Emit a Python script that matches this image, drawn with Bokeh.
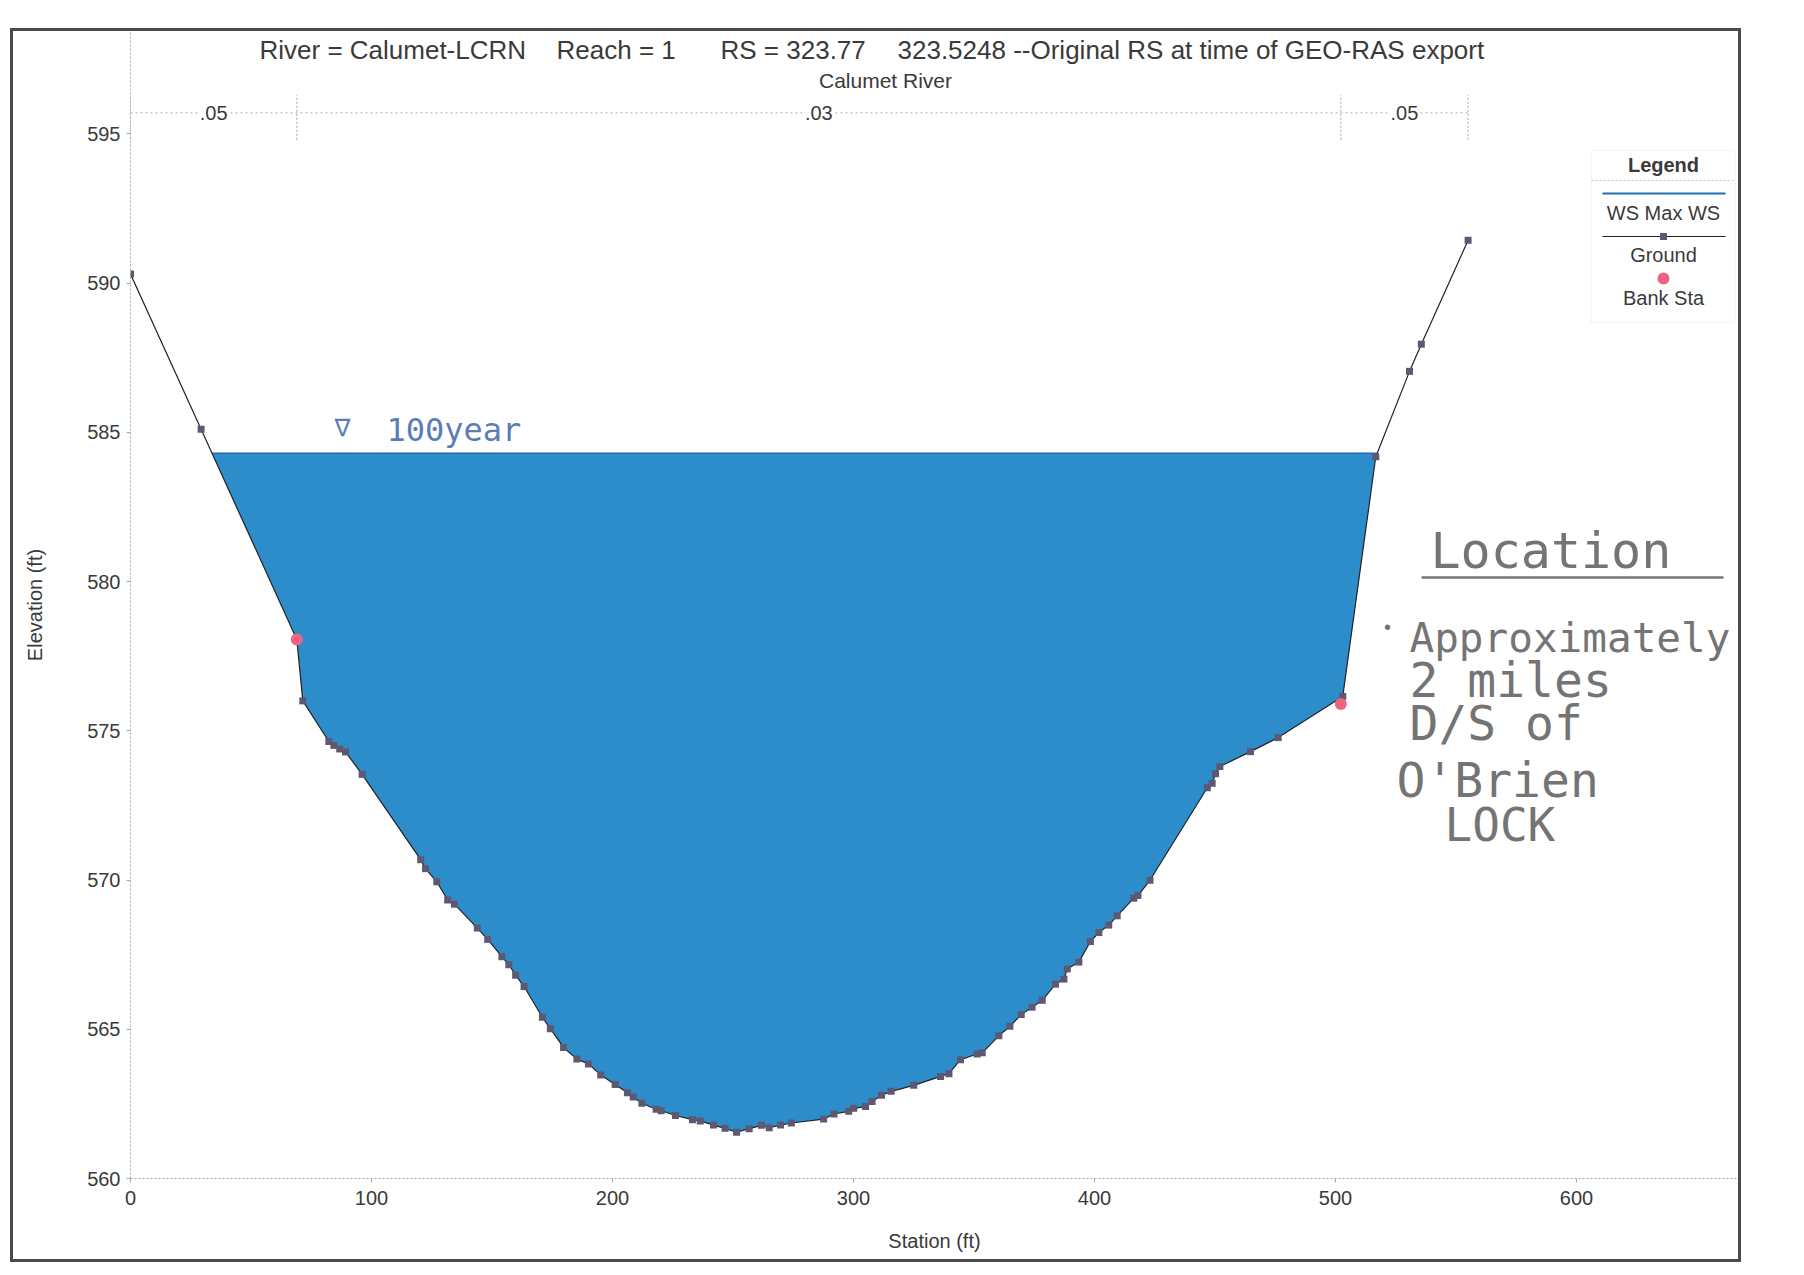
from bokeh.plotting import figure
from bokeh.models import Label, BoxAnnotation, FixedTicker, Range1d
from bokeh.embed import file_html
from bokeh.resources import INLINE

# ---------------- data ----------------
station = [0.0, 29.3, 69.0, 71.5, 82.3, 84.4, 86.8, 89.2, 96.1, 120.4, 122.4, 127.1,
           131.6, 134.4, 143.9, 148.2, 154.1, 157.0, 159.8, 163.3, 170.9, 174.2, 179.7,
           185.2, 190.0, 195.1, 201.1, 206.2, 208.6, 212.2, 218.1, 220.2, 226.1, 233.2,
           236.4, 241.9, 246.7, 251.5, 256.7, 261.8, 265.0, 269.7, 274.2, 287.6, 291.9,
           298.0, 300.1, 305.0, 307.7, 311.6, 315.6, 325.0, 336.1, 339.6, 344.4, 351.3,
           353.4, 360.3, 364.9, 369.6, 374.1, 378.3, 383.8, 387.3, 388.7, 393.5, 398.3,
           401.8, 405.9, 409.4, 416.3, 418.0, 423.0, 446.8, 448.8, 450.2, 452.0, 464.7,
           476.2, 503.0, 516.7, 530.7, 535.6, 555.0]
elevation = [590.30, 585.10, 578.06, 576.00, 574.64, 574.51, 574.39, 574.29, 573.54,
             570.68, 570.38, 569.94, 569.33, 569.19, 568.39, 568.01, 567.43, 567.16,
             566.81, 566.43, 565.40, 565.02, 564.39, 564.00, 563.84, 563.47, 563.15,
             562.87, 562.73, 562.52, 562.32, 562.27, 562.11, 561.97, 561.93, 561.79,
             561.68, 561.55, 561.67, 561.78, 561.70, 561.79, 561.86, 561.99, 562.16,
             562.25, 562.35, 562.41, 562.58, 562.79, 562.92, 563.12, 563.42, 563.51,
             563.98, 564.17, 564.21, 564.78, 565.10, 565.49, 565.74, 565.97, 566.51,
             566.68, 567.02, 567.25, 567.94, 568.24, 568.49, 568.80, 569.39, 569.48,
             569.99, 573.09, 573.24, 573.56, 573.80, 574.30, 574.77, 576.15, 584.18,
             587.04, 587.95, 591.43]
bank_station = [69.0, 502.2]
bank_elevation = [578.06, 575.90]
ws_max_elevation = 584.30
manning_n = [".05", ".03", ".05"]
manning_breaks = [0.0, 69.0, 502.2, 555.0]
x_ticks = [0, 100, 200, 300, 400, 500, 600]
y_ticks = [560, 565, 570, 575, 580, 585, 590, 595]
title_parts = ["River = Calumet-LCRN", "Reach = 1", "RS = 323.77",
               "323.5248 --Original RS at time of GEO-RAS export"]
subtitle = "Calumet River"
legend_labels = ["Legend", "WS Max WS", "Ground", "Bank Sta"]
note_ws = "100year"
note_head = "Location"
note_lines = ["Approximately", "2 miles", "D/S of", "O'Brien", "LOCK"]

# ---------------- layout (page pixels) ----------------
OX, OY = 13, 31            # canvas origin on the page
W, H = 1725, 1228          # canvas size
FL, FR, FT, FB = 117, 0, 0, 81
X0, X1 = 0.0, 667.2
PX_PER_FT_Y = 29.85
frame_w = W - FL - FR
frame_h = H - FT - FB
Y0 = 560.0
Y1 = Y0 + frame_h / PX_PER_FT_Y

def px(xp):  # page x -> data x
    return X0 + (xp - OX - FL) / frame_w * (X1 - X0)

def py(yp):  # page y -> data y
    return Y1 - (yp - OY - FT) / frame_h * (Y1 - Y0)

FONT = "Liberation Sans"
HAND = "DejaVu Sans Mono"
TXT = "#3a3a3a"
WATER = "#2C8DCA"
WS_LINE = "#1f6fae"
GROUND_MK = "#5f5872"
BANK = "#EE6480"

p = figure(width=W, height=H, output_backend="svg", toolbar_location=None,
           title_location=None, x_range=Range1d(X0, X1), y_range=Range1d(Y0, Y1),
           min_border_left=FL, min_border_right=FR, min_border_top=FT,
           min_border_bottom=FB,
           styles={"margin-left": f"{OX}px", "margin-top": f"{OY}px",
                   "outline": "3px solid #4a4a4a"})
p.background_fill_color = "white"
p.border_fill_color = "white"
p.outline_line_color = None
p.xgrid.visible = False
p.ygrid.visible = False

for ax in (p.xaxis[0], p.yaxis[0]):
    ax.axis_line_color = "#a8a8a8"
    ax.axis_line_dash = "2 2"
    ax.major_tick_line_color = "#a8a8a8"
    ax.major_tick_out = 4
    ax.major_tick_in = 0
    ax.minor_tick_line_color = None
    ax.major_label_text_font = FONT
    ax.major_label_text_font_size = "20px"
    ax.major_label_text_color = TXT
    ax.axis_label_text_font = FONT
    ax.axis_label_text_font_size = "20px"
    ax.axis_label_text_font_style = "normal"
    ax.axis_label_text_color = TXT

p.xaxis.ticker = FixedTicker(ticks=x_ticks)
p.yaxis.ticker = FixedTicker(ticks=y_ticks)
p.xaxis.axis_label = "Station (ft)"
p.yaxis.axis_label = "Elevation (ft)"
p.xaxis.major_label_standoff = 8
p.xaxis.axis_label_standoff = 22
p.yaxis.major_label_standoff = 6
p.yaxis.axis_label_standoff = 38

# ---------------- water polygon ----------------
def water_polygon(st, el, ws):
    xs, ys = [], []
    for i in range(len(st) - 1):
        xa, ya, xb, yb = st[i], el[i], st[i + 1], el[i + 1]
        if ya >= ws and yb < ws:
            t = (ya - ws) / (ya - yb)
            xs.append(xa + t * (xb - xa)); ys.append(ws)
        if yb < ws:
            xs.append(xb); ys.append(yb)
        if ya < ws and yb >= ws:
            t = (ws - ya) / (yb - ya)
            xs.append(xa + t * (xb - xa)); ys.append(ws)
    return xs, ys

wx, wy = water_polygon(station, elevation, ws_max_elevation)
p.patch(wx, wy, fill_color=WATER, line_color=None)
p.line([wx[0], wx[-1]], [ws_max_elevation, ws_max_elevation], line_color=WS_LINE, line_width=1.5)

# ground
p.line(station, elevation, line_color="#222222", line_width=1.2)
p.scatter(station, elevation, marker="square", size=7, fill_color=GROUND_MK, line_color=None)
p.scatter(bank_station, bank_elevation, marker="circle", size=12, fill_color=BANK, line_color=None)

# ---------------- Manning's n row ----------------
n_elev = 595.7
p.line([manning_breaks[0], manning_breaks[-1]], [n_elev, n_elev], line_color="#b0b0b0",
       line_dash="2 3", line_width=1)
p.segment(x0=manning_breaks, y0=[n_elev - 0.9] * len(manning_breaks),
          x1=manning_breaks, y1=[n_elev + 0.6] * len(manning_breaks),
          line_color="#a0a0a0", line_dash="2 2", line_width=1)
for i, nv in enumerate(manning_n):
    mid = 0.5 * (manning_breaks[i] + manning_breaks[i + 1])
    p.add_layout(Label(x=mid, y=n_elev, text=nv, text_align="center", text_baseline="middle",
                       text_font=FONT, text_font_size="20px", text_color=TXT,
                       background_fill_color="white"))

# ---------------- titles ----------------
title_left_px = [259, 556, 720, 897]
for t, xl in zip(title_parts, title_left_px):
    p.add_layout(Label(x=px(xl), y=py(49), text=t, text_align="left", text_baseline="middle",
                       text_font=FONT, text_font_size="26px", text_color=TXT))
p.add_layout(Label(x=px(885), y=py(80), text=subtitle, text_align="center",
                   text_baseline="middle", text_font=FONT, text_font_size="21px",
                   text_color=TXT))

# ---------------- legend ----------------
p.add_layout(BoxAnnotation(left=px(1591), right=px(1735), top=py(150), bottom=py(322),
                           fill_alpha=0, line_color="#c4c4c4", line_dash="2 2", line_width=1))
p.line([px(1591), px(1735)], [py(180), py(180)], line_color="#c8c8c8", line_dash="2 2")
p.line([px(1602), px(1725)], [py(193), py(193)], line_color=WS_LINE, line_width=2)
p.line([px(1602), px(1725)], [py(236), py(236)], line_color="#222222", line_width=1.2)
p.scatter([px(1663)], [py(236)], marker="square", size=7, fill_color=GROUND_MK, line_color=None)
p.scatter([px(1663)], [py(278)], marker="circle", size=12, fill_color=BANK, line_color=None)
for t, yp, st in zip(legend_labels, [164, 212, 254, 297], ["bold", "normal", "normal", "normal"]):
    p.add_layout(Label(x=px(1663), y=py(yp), text=t, text_align="center", text_baseline="middle",
                       text_font=FONT, text_font_size="20px", text_font_style=st,
                       text_color=TXT))

# ---------------- handwritten notes ----------------
PEN = "#5b7db5"
PENCIL = "#747474"
p.add_layout(Label(x=px(342), y=py(427), text="\u2207", text_align="center", text_baseline="middle",
                   text_font="DejaVu Sans", text_font_size="24px", text_color=PEN))
p.add_layout(Label(x=px(386), y=py(429), text=note_ws, text_align="left", text_baseline="middle",
                   text_font=HAND, text_font_size="32px", text_color=PEN))
p.add_layout(Label(x=px(1430), y=py(550), text=note_head, text_align="left", text_baseline="middle",
                   text_font=HAND, text_font_size="50px", text_color=PENCIL))
p.line([px(1421), px(1723)], [py(577), py(577)], line_color="#777777", line_width=2.5)
p.add_layout(Label(x=px(1387), y=py(626), text="\u2022", text_align="center", text_baseline="middle",
                   text_font=FONT, text_font_size="20px", text_color=PENCIL))
note_left = [1409, 1409, 1409, 1396, 1444]
note_y = [637, 679, 722, 779, 824]
note_size = ["41px", "48px", "48px", "48px", "46px"]
for t, xl, yp, fs in zip(note_lines, note_left, note_y, note_size):
    p.add_layout(Label(x=px(xl), y=py(yp), text=t, text_align="left", text_baseline="middle",
                       text_font=HAND, text_font_size=fs, text_color=PENCIL))

open("out.html", "w").write(file_html(p, INLINE))
